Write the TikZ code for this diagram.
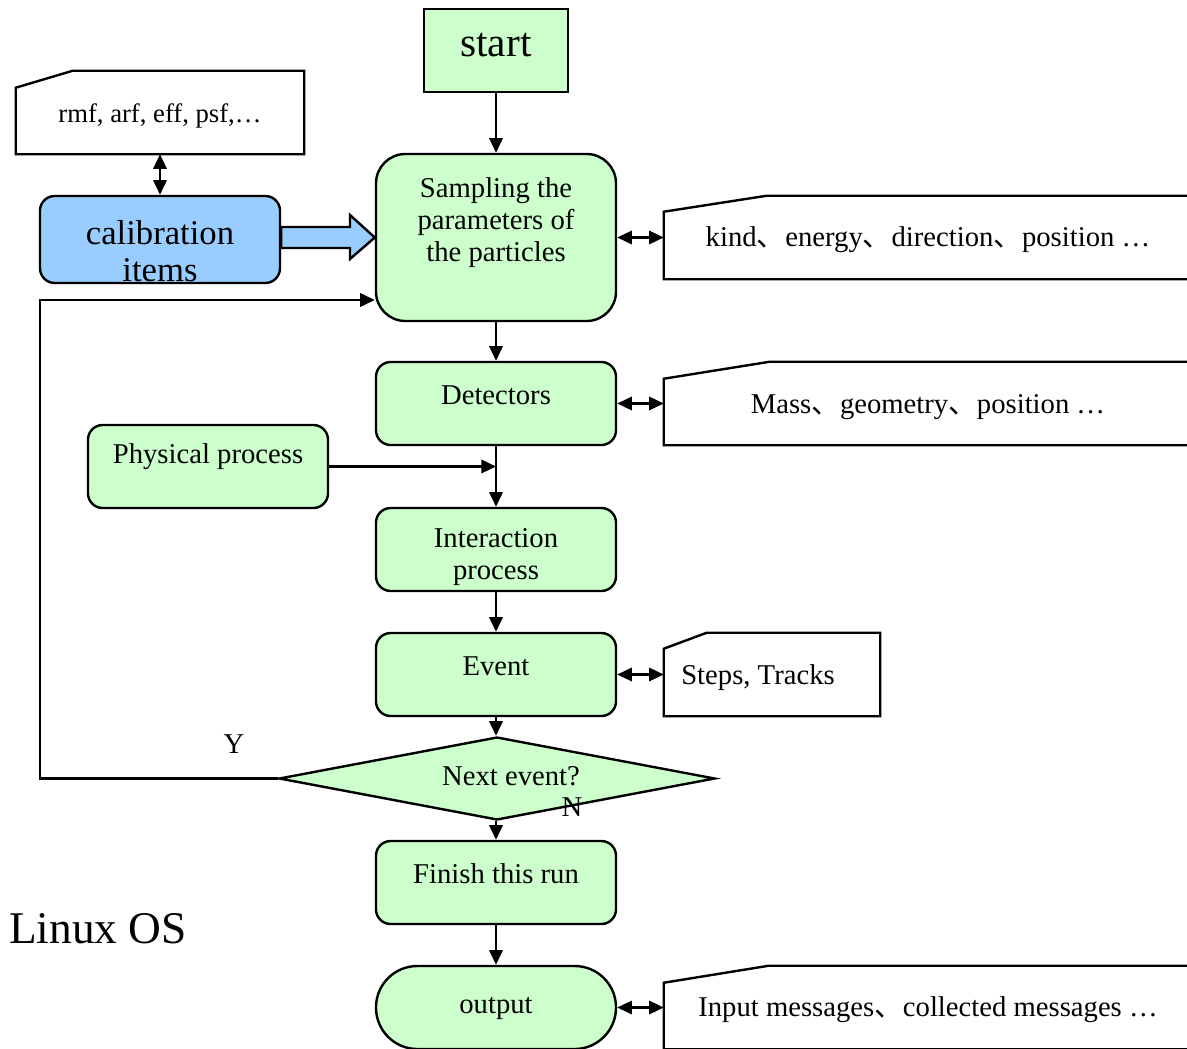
\documentclass[tikz,border=0pt]{standalone}
\usepackage{fontspec}
\setmainfont{Liberation Serif}
\newfontfamily\cjk{Noto Sans CJK SC}
\usetikzlibrary{arrows.meta,calc,shapes.geometric}
\newcommand\dun{{\cjk 、}}
\definecolor{lgreen}{HTML}{CCFFCC}
\definecolor{lblue}{HTML}{99CCFF}
\begin{document}
\begin{tikzpicture}[x=0.75pt,y=-0.75pt,
  lw/.style={line width=1.8pt},
  gbox/.style={lw, draw, fill=lgreen, rounded corners=11pt, minimum width=180pt, minimum height=62.25pt, inner sep=0},
  cardnode/.style={minimum height=62.25pt, inner sep=0},
  cardline/.style={lw, draw, fill=white},
  txt/.style={align=center, inner sep=0, font=\fontsize{21.5}{24}\selectfont},
  arr/.style={lw, -{Triangle[length=11pt,width=10pt]}},
  darr/.style={lw, {Triangle[length=11pt,width=10pt]}-{Triangle[length=11pt,width=10pt]}}
]
\clip (0,0) rectangle (1187,1048);
\fill[white] (0,0) rectangle (1187,1048);

% main boxes
\node[gbox, rounded corners=0, minimum width=108pt] (start) at (496,50.5) {};
\node[gbox, rounded corners=22pt, minimum height=125.25pt] (samp) at (496,237.5) {};
\node[gbox, fill=lblue, minimum height=65.25pt] (cal) at (160,239.5) {};
\node[gbox] (det) at (496,403.5) {};
\node[gbox] (phys) at (208,466.5) {};
\node[gbox] (inter) at (496,549.5) {};
\node[gbox] (event) at (496,674.5) {};
\node[diamond, lw, draw, fill=lgreen, minimum width=327pt, minimum height=62.25pt, aspect=5.25, inner sep=0] (dec) at (497,778.5) {};
\node[gbox] (finish) at (496,882.5) {};
\node[gbox, rounded corners=31pt] (output) at (496,1007.5) {};

% cards
\node[cardnode, minimum width=216pt] (rmf) at (160,112.5) {};
\draw[cardline] ($(rmf.north west)+(0,17)$) -- ($(rmf.north west)+(57,0)$) -- (rmf.north east) -- (rmf.south east) -- (rmf.south west) -- cycle;
\node[cardnode, minimum width=396pt] (kind) at (928,237.5) {};
\draw[cardline] ($(kind.north west)+(0,16)$) -- ($(kind.north west)+(103,0)$) -- (kind.north east) -- (kind.south east) -- (kind.south west) -- cycle;
\node[cardnode, minimum width=396pt] (mass) at (928,403.5) {};
\draw[cardline] ($(mass.north west)+(0,17)$) -- ($(mass.north west)+(106,0)$) -- (mass.north east) -- (mass.south east) -- (mass.south west) -- cycle;
\node[cardnode, minimum width=162pt] (steps) at (772,674.5) {};
\draw[cardline] ($(steps.north west)+(0,16)$) -- ($(steps.north west)+(43,0)$) -- (steps.north east) -- (steps.south east) -- (steps.south west) -- cycle;
\node[cardnode, minimum width=396pt] (input) at (928,1007.5) {};
\draw[cardline] ($(input.north west)+(0,17)$) -- ($(input.north west)+(105,0)$) -- (input.north east) -- (input.south east) -- (input.south west) -- cycle;

% block arrow
\draw[lw, fill=lblue] (cal.east |- 0,227) -- (350,227) -- (350,215) -- (samp.west) -- (350,259) -- (350,248) -- (cal.east |- 0,248) -- cycle;

% texts
\node[txt, font=\fontsize{31}{36}\selectfont] (tstart) at (496,45) {start};
\node[txt] (tsamp) at (496,223) {Sampling the\\parameters of\\the particles};
\node[txt, font=\fontsize{26}{27.75}\selectfont] (tcal) at (160,251) {calibration\\items};
\node[txt] (tdet) at (496,395) {Detectors};
\node[txt] (tphys) at (208,457) {Physical process};
\node[txt] (tinter) at (496,557) {Interaction\\process};
\node[txt] (tevent) at (496,666) {Event};
\node[txt] (tdec) at (511,776) {Next event?};
\node[txt] (ty) at (234,744) {Y};
\node[txt] (tn) at (572,807) {N};
\node[txt] (tfinish) at (496,874) {Finish this run};
\node[txt] (toutput) at (496,1008) {output};
\node[txt, font=\fontsize{34}{40}\selectfont] (tlinux) at (98,929) {Linux OS};
\node[txt, font=\fontsize{20}{24}\selectfont] (trmf) at (160,116) {rmf, arf, eff, psf,…};
\node[txt] (tkind) at (928,240) {kind\dun energy\dun direction\dun position …};
\node[txt] (tmass) at (928,407) {Mass\dun geometry\dun position …};
\node[txt] (tsteps) at (758,678) {Steps, Tracks};
\node[txt] (tinput) at (928,1010) {Input messages\dun collected messages …};

% connectors
\coordinate (loopc) at (40,300);
\draw[arr] (start) -- (samp);
\draw[darr] (rmf) -- (cal);
\draw[darr] (samp.east) -- (kind.west);
\draw[arr] (samp) -- (det);
\draw[darr] (det) -- (mass);
\draw[arr] (det) -- (inter);
\draw[arr] (phys.east) -- (phys.east -| det.south);
\draw[arr] (inter) -- (event);
\draw[darr] (event) -- (steps);
\draw[arr] (event) -- (event.south |- dec.north);
\draw[arr] (event.south |- dec.south) -- (finish);
\draw[arr] (dec.west) -| (loopc) -- (samp.west |- loopc);
\draw[arr] (finish) -- (output);
\draw[darr] (output) -- (input);
\end{tikzpicture}
\end{document}
